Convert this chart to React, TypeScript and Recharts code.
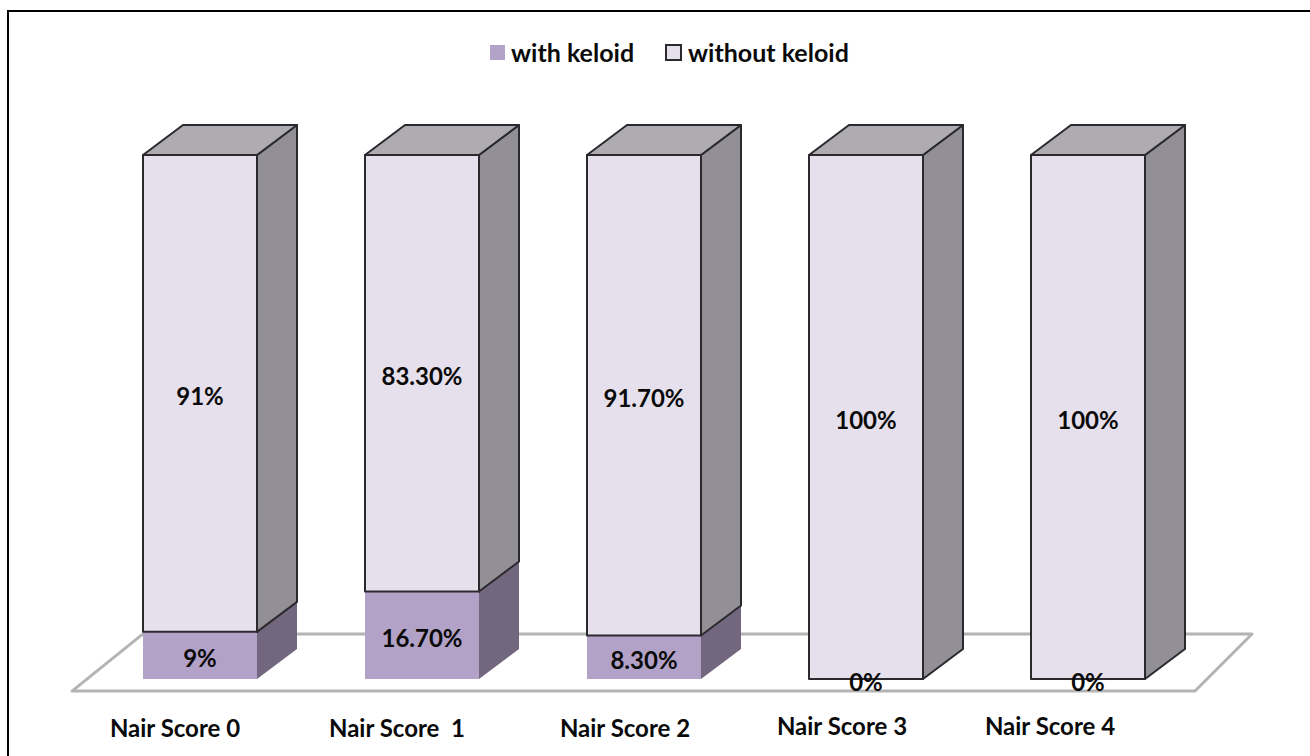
import React from 'react';
import { BarChart, Bar, XAxis, YAxis, LabelList, Legend, ReferenceArea } from 'recharts';

const categories = ['Nair Score 0', 'Nair Score  1', 'Nair Score 2', 'Nair Score 3', 'Nair Score 4'];
const withKeloid = [9, 16.7, 8.3, 0, 0];
const withoutKeloid = [91, 83.3, 91.7, 100, 100];
const withKeloidLabels = ['9%', '16.70%', '8.30%', '0%', '0%'];
const withoutKeloidLabels = ['91%', '83.30%', '91.70%', '100%', '100%'];

// The axis labels sit left of their columns, the last two slightly higher
const tickShift = [-25, -25, -19, -24, -38];
const tickRaise = [0, 0, 0, 2, 2];

const tableData = categories.map((name, i) => ({
  name,
  withKeloid: withKeloid[i],
  withoutKeloid: withoutKeloid[i],
  withLabel: withKeloidLabels[i],
  withoutLabel: withoutKeloidLabels[i]
}));

const FONT = 'Lato, "Open Sans", sans-serif';
const DEPTH_X = 40;
const DEPTH_Y = 30;

// Extruded column: front face plus a side and top going back up and to the right
const Box = ({ x, y, width, height, front, side, top, outline }: any) => {
  if (!height) return null;
  const r = x + width;
  const b = y + height;
  const edge = outline ? { stroke: outline, strokeWidth: 2, strokeLinejoin: 'round' as const } : {};
  const dx = DEPTH_X;
  const dy = DEPTH_Y;
  return (
    <g>
      <path d={`M${r},${y}L${r + dx},${y - dy}L${r + dx},${b - dy}L${r},${b}Z`} fill={side} {...edge} />
      <path d={`M${x},${y}L${x + dx},${y - dy}L${r + dx},${y - dy}L${r},${y}Z`} fill={top} {...edge} />
      <rect x={x} y={y} width={width} height={height} fill={front} {...edge} />
    </g>
  );
};

const LowerBox = (props: any) => <Box {...props} front="#b3a2c7" side="#72677f" top="#8f82a0" />;
const UpperBox = (props: any) => (
  <Box {...props} front="#e6e0ec" side="#928f97" top="#aeabb1" outline="#2a2a2e" />
);

// Floor parallelogram the columns stand on, skewed out from the plot's width
const Floor = ({ x, y, width, height }: any) => (
  <path
    d={`M${x - 17},${y + height}L${x + 54},${y}L${x + width + 53},${y}L${x + width - 4},${y + height}Z`}
    fill="#fff"
    stroke="#b4b4b4"
    strokeWidth={3}
    strokeLinejoin="round"
  />
);

const Tick = ({ x, y, payload, index }: any) => (
  <text
    x={x + tickShift[index]}
    y={y - tickRaise[index]}
    textAnchor="middle"
    fontFamily={FONT}
    fontWeight={700}
    fontSize={24}
    fill="#0a0a0a"
    style={{ whiteSpace: 'pre' }}
  >
    {payload.value}
  </text>
);

const KeyItem = ({ fill, stroke, label, width }: any) => (
  <div style={{ display: 'flex', alignItems: 'center', width }}>
    <span
      style={{
        width: stroke ? 13 : 15,
        height: stroke ? 13 : 15,
        background: fill,
        border: stroke ? `2px solid ${stroke}` : 'none',
        marginRight: 6
      }}
    />
    <span>{label}</span>
  </div>
);

const Key = () => (
  <div
    style={{
      display: 'flex',
      fontFamily: FONT,
      fontWeight: 700,
      fontSize: 25,
      lineHeight: '24px',
      color: '#0a0a0a'
    }}
  >
    <KeyItem fill="#b3a2c7" label="with keloid" width={175} />
    <KeyItem fill="#e6e0ec" stroke="#2a2a2e" label="without keloid" width={190} />
  </div>
);

const valueLabel = {
  position: 'center' as const,
  fontFamily: FONT,
  fontWeight: 700,
  fontSize: 24,
  fill: '#0a0a0a',
  dy: 3
};

export default function App() {
  return (
    <div style={{ position: 'absolute', left: 0, top: 0, width: 1310, height: 756, overflow: 'hidden', background: '#fff' }}>
      <div
        style={{
          position: 'absolute',
          left: 7,
          top: 10,
          width: 1310,
          height: 760,
          borderTop: '2px solid #000',
          borderLeft: '2px solid #000'
        }}
      />
      <BarChart
        width={1310}
        height={756}
        data={tableData}
        barCategoryGap={54}
        margin={{ top: 131, right: 111, bottom: 0, left: 89 }}
        style={{ position: 'absolute', left: 0, top: 0 }}
      >
        <XAxis
          dataKey="name"
          axisLine={false}
          tickLine={false}
          interval={0}
          height={77}
          tick={<Tick />}
          tickMargin={52}
        />
        <YAxis hide domain={[0, 100]} />
        <Legend
          content={<Key />}
          verticalAlign="top"
          wrapperStyle={{ left: 490, top: 40, width: 380 }}
        />
        <ReferenceArea
          x1={categories[0]}
          x2={categories[4]}
          y1={-2.3}
          y2={8.6}
          shape={<Floor />}
          ifOverflow="visible"
        />
        <Bar dataKey="withKeloid" stackId="a" shape={<LowerBox />} isAnimationActive={false}>
          <LabelList dataKey="withLabel" {...valueLabel} />
        </Bar>
        <Bar dataKey="withoutKeloid" stackId="a" shape={<UpperBox />} isAnimationActive={false}>
          <LabelList dataKey="withoutLabel" {...valueLabel} />
        </Bar>
      </BarChart>
    </div>
  );
}
